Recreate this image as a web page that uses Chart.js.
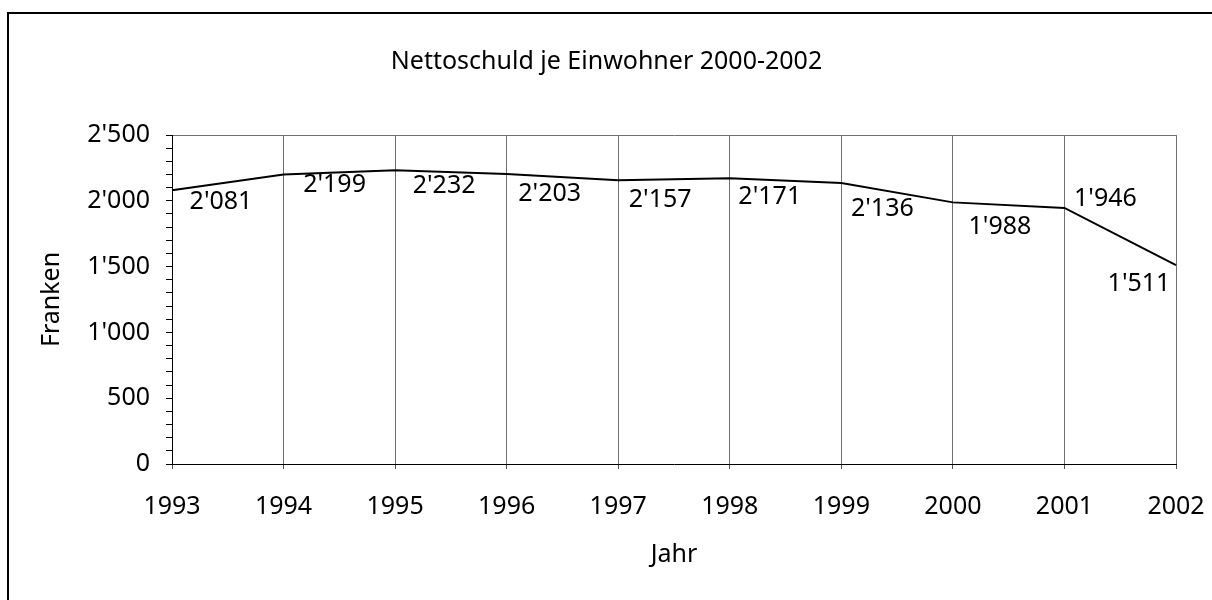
<!DOCTYPE html>
<html>
<head>
<meta charset="utf-8">
<script src="https://cdn.jsdelivr.net/npm/chart.js@4/dist/chart.umd.min.js"></script>
<style>
  html, body { margin: 0; padding: 0; background: #fff; overflow: hidden; }
  canvas { display: block; }
</style>
</head>
<body>
<canvas id="chart" width="1212" height="600"></canvas>
<script>
// Daten
var jahre = ['1993', '1994', '1995', '1996', '1997', '1998', '1999', '2000', '2001', '2002'];
var nettoschuld = [2081, 2199, 2232, 2203, 2157, 2171, 2136, 1988, 1946, 1511];
var yTicks = [0, 500, 1000, 1500, 2000, 2500];

// Position der Datenbeschriftungen relativ zum Punkt (px)
var labelDx = [49, 51, 49, 43, 42, 40, 41, 47, 41, -37];
var labelDy = [12, 10, 16, 20, 20, 19, 26, 24, -9, 19];

var FONT = '"Noto Sans", "Open Sans", sans-serif';

function formatZahl(v) {
    if (v < 1000) return String(v);
    var rest = String(v % 1000);
    while (rest.length < 3) rest = '0' + rest;
    return Math.floor(v / 1000) + "'" + rest;
}

var rahmenPlugin = {
    id: 'rahmen',
    beforeDraw: function (chart) {
        var ctx = chart.ctx;
        ctx.save();
        ctx.fillStyle = '#fff';
        ctx.fillRect(0, 0, chart.width, chart.height);
        ctx.strokeStyle = '#000';
        ctx.lineWidth = 2;
        ctx.strokeRect(8, 13, 1400, 1000);
        ctx.restore();
    }
};

var beschriftungPlugin = {
    id: 'beschriftung',
    afterDatasetsDraw: function (chart) {
        var ctx = chart.ctx;
        var meta = chart.getDatasetMeta(0);
        ctx.save();
        ctx.font = '25px ' + FONT;
        ctx.fillStyle = '#000';
        ctx.textAlign = 'center';
        ctx.textBaseline = 'middle';
        meta.data.forEach(function (pt, i) {
            var v = chart.data.datasets[0].data[i];
            ctx.fillText(formatZahl(v), pt.x + labelDx[i], pt.y + labelDy[i]);
        });
        ctx.restore();
    }
};

var ctx = document.getElementById('chart').getContext('2d');
new Chart(ctx, {
    type: 'line',
    data: {
        labels: jahre,
        datasets: [{
            data: nettoschuld,
            borderColor: '#000',
            borderWidth: 2,
            pointRadius: 0,
            tension: 0,
            fill: false
        }]
    },
    options: {
        responsive: false,
        animation: false,
        layout: { padding: { left: 37, right: 36, top: 0, bottom: 30 } },
        plugins: {
            legend: { display: false },
            tooltip: { enabled: false },
            title: {
                display: true,
                text: 'Nettoschuld je Einwohner 2000-2002',
                color: '#000',
                font: { family: FONT, size: 25, weight: 'normal' },
                padding: { top: 47, bottom: 58 }
            }
        },
        scales: {
            x: {
                offset: false,
                border: { color: '#000', width: 1 },
                grid: {
                    color: '#707070',
                    tickColor: '#555',
                    tickLength: 5,
                    lineWidth: 1
                },
                ticks: {
                    color: '#000',
                    font: { family: FONT, size: 25 },
                    padding: 23,
                    maxRotation: 0,
                    autoSkip: false
                },
                title: {
                    display: true,
                    text: 'Jahr',
                    color: '#000',
                    font: { family: FONT, size: 25 },
                    padding: 0
                },
                afterFit: function (scale) {
                    scale.height = 106;
                    scale.paddingLeft = 0;
                    scale.paddingRight = 0;
                }
            },
            y: {
                min: yTicks[0],
                max: yTicks[yTicks.length - 1],
                border: { color: '#000', width: 1 },
                grid: {
                    color: function (c) {
                        return c.tick && c.tick.value === yTicks[yTicks.length - 1] ? '#707070' : 'rgba(0,0,0,0)';
                    },
                    tickColor: '#000',
                    tickLength: 6
                },
                ticks: {
                    stepSize: 100,
                    autoSkip: false,
                    color: '#000',
                    font: { family: FONT, size: 25 },
                    padding: 16,
                    callback: function (v) {
                        return yTicks.indexOf(v) >= 0 ? formatZahl(v) : '';
                    }
                },
                title: {
                    display: true,
                    text: 'Franken',
                    color: '#000',
                    font: { family: FONT, size: 25 },
                    padding: 0
                },
                afterFit: function (scale) { scale.width = 135; }
            }
        }
    },
    plugins: [rahmenPlugin, beschriftungPlugin]
});
</script>
</body>
</html>
